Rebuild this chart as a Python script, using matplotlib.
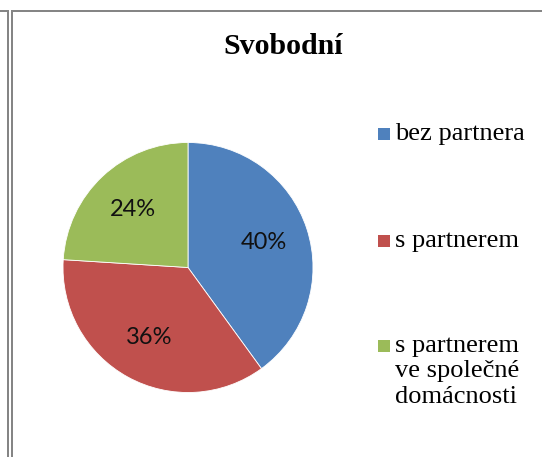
import matplotlib.pyplot as plt
from matplotlib.lines import Line2D
from matplotlib.patches import Rectangle

# data
title = 'Svobodní'
categories = ['bez partnera', 's partnerem', 's partnerem\nve společné\ndomácnosti']
shares = [40, 36, 24]
colors = ['#4F81BD', '#C0504D', '#9BBB59']

W, H = 542, 457
fig = plt.figure(figsize=(W / 100, H / 100), dpi=100)
fig.patch.set_facecolor('white')


def fx(px):
    return px / W


def fy(py):
    return 1 - py / H


# pie, centre (188, 267), radius 125 px
cx, cy, r = 188, 267.5, 125
ax = fig.add_axes([fx(cx - r), fy(cy + r), 2 * r / W, 2 * r / H])
wedges, texts, autotexts = ax.pie(
    shares, colors=colors, startangle=90, counterclock=False,
    autopct='%1.0f%%', pctdistance=0.64, radius=1.0,
    wedgeprops=dict(edgecolor='white', linewidth=0.6),
    textprops=dict(fontsize=17, family='Lato', color='#111111'))
ax.set_xlim(-1, 1)
ax.set_ylim(-1, 1)
ax.set_aspect('auto')
ax.axis('off')

# title
fig.text(fx(283), fy(47), title, ha='center', va='center',
         fontsize=21.5, fontweight='bold', family='Liberation Serif')

# legend, drawn by hand
legend_y = [134, 241, 346]
for lab, col, y in zip(categories, colors, legend_y):
    fig.add_artist(Rectangle((fx(378), fy(y + 6)), 12 / W, 12 / H,
                             transform=fig.transFigure, facecolor=col,
                             edgecolor='none'))
    fig.text(fx(395), fy(y - 11), lab, ha='left', va='top', fontsize=19,
             family='Liberation Serif', linespacing=1.2)

# grey frames
grey = '#858585'
lw = 2 * 72 / 100
for x in (8, 12):
    fig.add_artist(Line2D([fx(x), fx(x)], [fy(10), 0], transform=fig.transFigure,
                          color=grey, linewidth=lw, solid_capstyle='butt'))
fig.add_artist(Line2D([0, fx(9)], [fy(11), fy(11)], transform=fig.transFigure,
                      color=grey, linewidth=lw, solid_capstyle='butt'))
fig.add_artist(Line2D([fx(11), 1], [fy(11), fy(11)], transform=fig.transFigure,
                      color=grey, linewidth=lw, solid_capstyle='butt'))

fig.savefig('out.png', dpi=100)
